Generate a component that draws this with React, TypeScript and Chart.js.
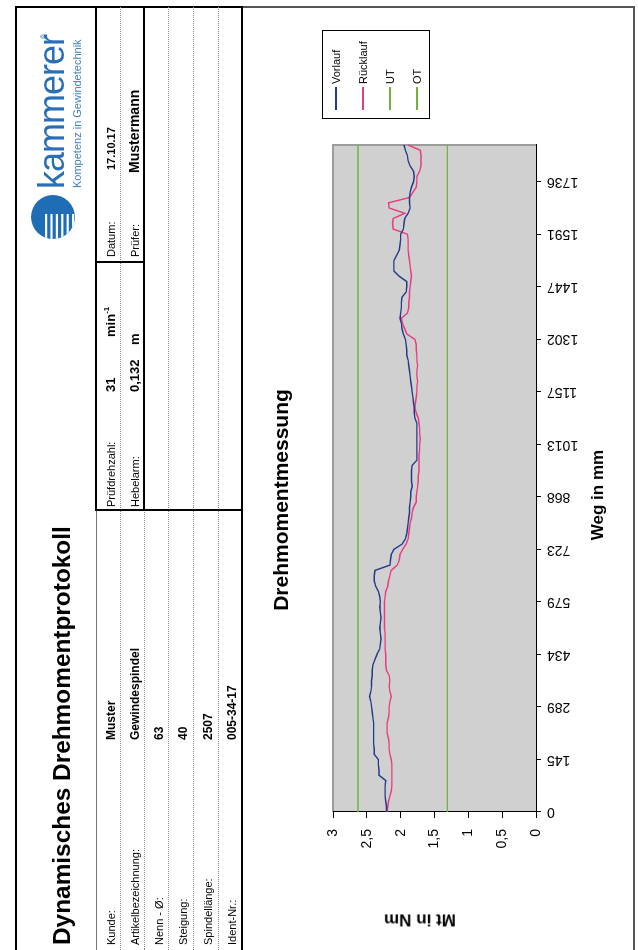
import React, { useEffect, useRef } from "react";
import { Chart, registerables } from "chart.js";
Chart.register(...registerables);

const wegTicks = ["0", "145", "289", "434", "579", "723", "868", "1013", "1157", "1302", "1447", "1591", "1736"];
const mtTicks = [0, 0.5, 1, 1.5, 2, 2.5, 3];

const vorlauf = [
  2.21, 2.21, 2.22, 2.23, 2.23, 2.23, 2.22, 2.32, 2.32, 2.33,
  2.33, 2.39, 2.39, 2.40, 2.40, 2.40, 2.40, 2.40, 2.41, 2.42,
  2.43, 2.44, 2.46, 2.44, 2.43, 2.43, 2.42, 2.42, 2.41, 2.38,
  2.35, 2.31, 2.30, 2.29, 2.30, 2.31, 2.30, 2.29, 2.30, 2.31,
  2.30, 2.31, 2.33, 2.37, 2.39, 2.39, 2.38, 2.16, 2.15, 2.14,
  2.10, 1.98, 1.93, 1.91, 1.90, 1.89, 1.88, 1.87, 1.87, 1.86,
  1.85, 1.85, 1.83, 1.84, 1.84, 1.84, 1.83, 1.76, 1.76, 1.76,
  1.76, 1.76, 1.76, 1.76, 1.76, 1.79, 1.80, 1.80, 1.81, 1.82,
  1.83, 1.84, 1.85, 1.86, 1.87, 1.88, 1.89, 1.91, 1.91, 1.92,
  1.93, 1.96, 1.98, 1.99, 2.01, 2.00, 1.99, 1.99, 1.98, 1.92,
  1.91, 1.91, 2.02, 2.10, 2.10, 2.10, 2.06, 2.02, 2.01, 2.00,
  2.00, 1.96, 1.95, 1.94, 1.89, 1.86, 1.87, 1.87, 1.86, 1.84,
  1.81, 1.80, 1.81, 1.86, 1.89, 1.90, 1.93, 1.95,
];

const ruecklauf = [
  2.20, 2.19, 2.18, 2.16, 2.14, 2.13, 2.13, 2.13, 2.13, 2.13,
  2.14, 2.16, 2.17, 2.17, 2.18, 2.20, 2.20, 2.20, 2.18, 2.17,
  2.17, 2.16, 2.14, 2.16, 2.17, 2.16, 2.17, 2.21, 2.22, 2.22,
  2.22, 2.23, 2.23, 2.23, 2.23, 2.24, 2.24, 2.24, 2.24, 2.24,
  2.24, 2.23, 2.22, 2.19, 2.18, 2.16, 2.14, 2.05, 2.02, 2.01,
  1.97, 1.92, 1.89, 1.88, 1.87, 1.86, 1.84, 1.83, 1.81, 1.77,
  1.77, 1.76, 1.75, 1.74, 1.74, 1.73, 1.73, 1.73, 1.73, 1.72,
  1.72, 1.71, 1.72, 1.72, 1.73, 1.74, 1.77, 1.79, 1.78, 1.77,
  1.76, 1.76, 1.75, 1.76, 1.76, 1.75, 1.76, 1.76, 1.77, 1.77,
  1.79, 1.91, 1.94, 1.97, 1.99, 1.90, 1.88, 1.88, 1.87, 1.87,
  1.86, 1.85, 1.84, 1.85, 1.86, 1.87, 1.88, 1.89, 1.89, 1.89,
  1.90, 2.11, 2.12, 2.11, 1.94, 2.17, 2.18, 1.87, 1.82, 1.77,
  1.76, 1.76, 1.72, 1.70, 1.70, 1.70, 1.71, 1.89,
];

const utValue = 1.31;
const otValue = 2.63;

const seriesNames = ["Vorlauf", "Rücklauf", "UT", "OT"];
const seriesColors = ["#25398c", "#ea3a82", "#72b340", "#72b340"];

const headerLabels = ["Kunde:", "Artikelbezeichnung:", "Nenn - Ø:", "Steigung:", "Spindellänge:", "Ident-Nr.:"];
const headerValues = ["Muster", "Gewindespindel", "63", "40", "2507", "005-34-17"];

const FONT = "'Liberation Sans', Arial, Helvetica, sans-serif";

const categories = vorlauf.map((_, i) => (i % 10 === 0 && wegTicks[i / 10]) || "");

const plotBg = {
  id: "plotBg",
  beforeDraw(chart: any) {
    const { ctx, chartArea: a } = chart;
    ctx.save();
    ctx.fillStyle = "#d0d0d0";
    ctx.fillRect(a.left, a.top, a.right - a.left, a.bottom - a.top);
    ctx.strokeStyle = "#9c9c9c";
    ctx.lineWidth = 2;
    ctx.beginPath();
    ctx.moveTo(a.left, a.top);
    ctx.lineTo(a.right, a.top);
    ctx.lineTo(a.right, a.bottom);
    ctx.stroke();
    ctx.restore();
  },
};

function Txt(props: any) {
  const { x, base, size, bold, color, children, align } = props;
  const style: any = {
    position: "absolute",
    top: base - 0.85 * size,
    fontSize: size,
    lineHeight: `${size}px`,
    fontWeight: bold ? "bold" : "normal",
    color: color || "#000",
    whiteSpace: "nowrap",
    left: x,
  };
  if (align === "center") style.transform = "translateX(-50%)";
  return <div style={style}>{children}</div>;
}

function Line(props: any) {
  const { x, y, w, h, color, dotted } = props;
  const style: any = { position: "absolute", left: x, top: y, width: w, height: h };
  if (dotted) {
    style.height = 0;
    style.borderTop = "1px dotted #8a8a8a";
  } else {
    style.background = color || "#000";
  }
  return <div style={style} />;
}

function ChartCanvas() {
  const ref = useRef<HTMLCanvasElement>(null);
  useEffect(() => {
    if (!ref.current) return;
    Chart.defaults.font.family = FONT;
    Chart.defaults.color = "#000";
    const mk = (i: number, data: number[], w: number) => ({
      label: seriesNames[i],
      data,
      borderColor: seriesColors[i],
      backgroundColor: seriesColors[i],
      borderWidth: w,
      pointRadius: 0,
      tension: 0,
      fill: false,
    });
    const chart = new Chart(ref.current, {
      type: "line",
      data: {
        labels: categories,
        datasets: [
          mk(2, categories.map(() => utValue), 1.4),
          mk(3, categories.map(() => otValue), 1.4),
          mk(0, vorlauf, 1.4),
          mk(1, ruecklauf, 1.4),
        ],
      },
      options: {
        animation: false,
        responsive: false,
        events: [],
        layout: { padding: { top: 90, right: 137, bottom: 0, left: 0 } },
        plugins: { legend: { display: false }, title: { display: false }, tooltip: { enabled: false } },
        scales: {
          x: {
            type: "category",
            offset: false,
            grid: {
              drawOnChartArea: false,
              drawTicks: true,
              tickLength: 5,
              color: (c: any) => (c.index % 10 === 0 ? "#000" : "rgba(0,0,0,0)"),
            },
            border: { display: true, color: "#000", width: 1 },
            ticks: { autoSkip: false, minRotation: 90, maxRotation: 90, padding: 6, font: { size: 14 }, color: "#000" },
            afterFit: (s: any) => {
              s.height = 97;
            },
          },
          y: {
            min: 0,
            max: 3,
            grid: { drawOnChartArea: false, drawTicks: true, tickLength: 6, color: "#000" },
            border: { display: true, color: "#000", width: 1 },
            ticks: {
              padding: 11,
              font: { size: 14 },
              color: "#000",
              callback: (v: any) => String(v).replace(".", ","),
            },
            afterBuildTicks: (s: any) => {
              s.ticks = mtTicks.map((v) => ({ value: v }));
            },
            afterFit: (s: any) => {
              s.width = 138;
            },
          },
        },
      } as any,
      plugins: [plotBg],
    });
    return () => chart.destroy();
  }, []);
  return (
    <canvas
      ref={ref}
      width={942}
      height={390}
      style={{ position: "absolute", left: 0, top: 243, width: 942, height: 390 }}
    />
  );
}

function Logo() {
  const stripes = [0, 1, 2, 3, 4, 5];
  return (
    <svg width={46} height={46} style={{ position: "absolute", left: 710, top: 30 }}>
      <defs>
        <clipPath id="logoClip">
          <circle cx={23} cy={23} r={22} />
        </clipPath>
      </defs>
      <circle cx={23} cy={23} r={22} fill="#1f6db5" />
      <g clipPath="url(#logoClip)">
        {stripes.map((k) => (
          <rect key={k} x={0} y={15 + k * 5.4} width={26} height={2.2} fill="#ffffff" />
        ))}
      </g>
    </svg>
  );
}

export default function App() {
  const rowBase = [115, 139, 163, 187, 212, 236];
  const legendY = [336, 363, 390, 417];
  return (
    <div
      style={{
        position: "fixed",
        left: 0,
        top: 0,
        width: 950,
        height: 638,
        transformOrigin: "0 0",
        transform: "translate(0px, 950px) rotate(-90deg)",
        background: "#fff",
        fontFamily: FONT,
        overflow: "hidden",
      }}
    >
      {/* frame & table lines */}
      <Line x={0} y={15} w={944} h={2} />
      <Line x={942} y={15} w={2} h={228} />
      <Line x={0} y={95.5} w={440} h={1} color="#777" />
      <Line x={440} y={95} w={504} h={2} />
      <Line x={0} y={119.5} w={943} dotted />
      <Line x={0} y={144} w={440} dotted />
      <Line x={440} y={143} w={504} h={2} />
      <Line x={0} y={168} w={943} dotted />
      <Line x={0} y={193} w={943} dotted />
      <Line x={0} y={217.5} w={943} dotted />
      <Line x={0} y={241} w={944} h={2} />
      <Line x={439} y={95} w={2} h={148} />
      <Line x={687} y={95} w={2} h={50} />

      {/* chart box */}
      <ChartCanvas />
      <Line x={942} y={243} w={1.5} h={392} color="#555" />
      <Line x={0} y={633} w={943} h={1.5} color="#555" />

      {/* header texts */}
      <Txt x={5} base={71} size={24.4} bold>
        Dynamisches Drehmomentprotokoll
      </Txt>
      <Logo />
      <div
        style={{
          position: "absolute",
          left: 761,
          top: 65 - 0.85 * 36,
          fontSize: 36,
          lineHeight: "36px",
          letterSpacing: -1,
          color: "#2a6fb6",
          whiteSpace: "nowrap",
        }}
      >
        kammerer
      </div>
      <Txt x={911} base={46} size={7} color="#2a6fb6">
        ®
      </Txt>
      <Txt x={762} base={81} size={11} color="#3a7fc4">
        Kompetenz in Gewindetechnik
      </Txt>

      {headerLabels.map((l, i) => (
        <Txt key={l} x={5} base={rowBase[i]} size={11}>
          {l}
        </Txt>
      ))}
      {headerValues.map((v, i) => (
        <Txt key={v} x={210} base={rowBase[i]} size={12} bold>
          {v}
        </Txt>
      ))}

      <Txt x={443} base={115} size={11}>Prüfdrehzahl:</Txt>
      <Txt x={443} base={139} size={11}>Hebelarm:</Txt>
      <Txt x={558} base={115} size={13} bold>31</Txt>
      <Txt x={558} base={139} size={13} bold>0,132</Txt>
      <Txt x={613} base={115} size={13} bold>
        min<sup style={{ fontSize: 8, verticalAlign: "6px", lineHeight: 0 }}>-1</sup>
      </Txt>
      <Txt x={605} base={139} size={13} bold>m</Txt>
      <Txt x={693} base={115} size={11}>Datum:</Txt>
      <Txt x={693} base={139} size={11}>Prüfer:</Txt>
      <Txt x={780} base={115} size={11} bold>17.10.17</Txt>
      <Txt x={777} base={139} size={14} bold>Mustermann</Txt>

      {/* chart titles */}
      <Txt x={450} base={288} size={21} bold align="center">
        Drehmomentmessung
      </Txt>
      <Txt x={455} base={603} size={17} bold align="center">
        Weg in mm
      </Txt>
      <div
        style={{
          position: "absolute",
          left: 30,
          top: 420,
          transform: "translate(-50%, -50%) rotate(-90deg)",
          fontSize: 17,
          fontWeight: "bold",
          whiteSpace: "nowrap",
          lineHeight: "17px",
        }}
      >
        Mt in Nm
      </div>

      {/* legend */}
      <div
        style={{
          position: "absolute",
          left: 831,
          top: 322,
          width: 89,
          height: 108,
          border: "1px solid #000",
          boxSizing: "border-box",
          background: "#fff",
        }}
      />
      {seriesNames.map((n, i) => (
        <React.Fragment key={n}>
          <Line x={840} y={legendY[i] - 0.75} w={23} h={1.5} color={seriesColors[i]} />
          <Txt x={866} base={legendY[i] + 4.5} size={11}>
            {n}
          </Txt>
        </React.Fragment>
      ))}
    </div>
  );
}
